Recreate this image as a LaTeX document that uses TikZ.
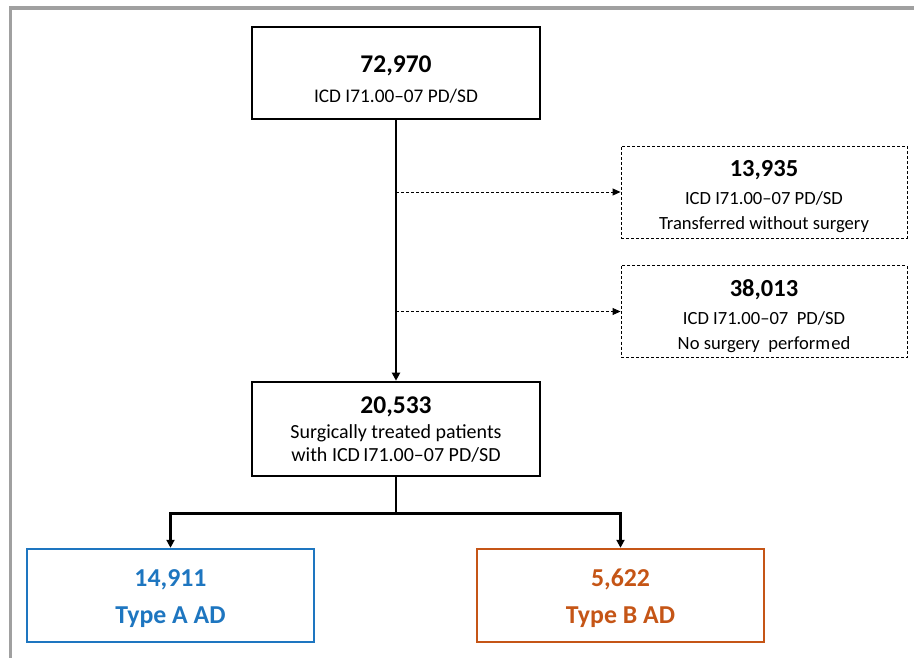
\documentclass[tikz,border=0pt]{standalone}
\usepackage{fontspec}
\setmainfont{Carlito}
\usetikzlibrary{arrows.meta,calc}
\definecolor{frameg}{RGB}{160,160,160}
\definecolor{typea}{RGB}{30,118,192}
\definecolor{typeb}{RGB}{197,85,22}
\tikzset{
  mainbox/.style={draw=black, line width=2.6pt, minimum width=288pt, minimum height=92pt, inner sep=0pt, align=center},
  sidebox/.style={draw=black, line width=0.9pt, dash pattern=on 3pt off 2pt, minimum width=286pt, minimum height=92pt, inner sep=0pt, align=center},
  resbox/.style={line width=2.4pt, minimum width=287pt, minimum height=93pt, inner sep=0pt, align=center},
  solidarrow/.style={draw=black, line width=2.4pt, -{Triangle[length=8pt,width=8pt]}},
  solidline/.style={draw=black, line width=2.4pt},
  dasharrow/.style={draw=black, line width=0.9pt, dash pattern=on 3pt off 2pt, -{Triangle[length=8pt,width=7pt]}},
}
\newcommand{\bignum}[2][25.5]{{\bfseries\fontsize{#1}{24}\selectfont #2}}
\newcommand{\lift}[1]{\rule{0pt}{#1pt}}
\begin{document}
\begin{tikzpicture}[x=1pt,y=-1pt]
\useasboundingbox (0,0) rectangle (914,658);
\draw[frameg, line width=3.5pt] (10.5,660) -- (10.5,8) -- (916,8);

\node[mainbox, font=\fontsize{19.3}{24}\selectfont] (top) at (396,73) {\lift{30}\bignum{72,970}\\[6pt]ICD I71.00–07 PD/SD};
\node[sidebox, font=\fontsize{18.6}{24}\selectfont] (side1) at (764,192) {\lift{26}\bignum[24.5]{13,935}\\[4pt]ICD I71.00–07 PD/SD\\[1pt]Transferred without surgery};
\node[sidebox, font=\fontsize{18.6}{24}\selectfont] (side2) at (764,311.5) {\lift{27}\bignum[24.5]{38,013}\\[4pt]ICD I71.00–07~ PD/SD\\[1pt]No surgery~ perform\kern1pt ed};
\node[mainbox, minimum height=94pt, font=\fontsize{20}{24}\selectfont] (mid) at (396,429) {\lift{18}\bignum{20,533}\\[1pt]Surgically treated patients\\[-1pt]with ICD\,I71.00–07 PD/SD};
\node[resbox, draw=typea, text=typea, font=\bfseries\fontsize{25.8}{24}\selectfont] (A) at (170.5,595.5) {\lift{22.5}14,911\\[13pt]Type A AD};
\node[resbox, draw=typeb, text=typeb, font=\bfseries\fontsize{25.8}{24}\selectfont] (B) at (620.5,595.5) {\lift{22.5}5,622\\[13pt]Type B AD};

\draw[solidarrow] (top.south) -- (mid.north);
\coordinate (d1) at (top.south |- side1.west);
\coordinate (d2) at (top.south |- side2.west);
\draw[dasharrow] (d1) -- (side1.west);
\draw[dasharrow] (d2) -- (side2.west);
\coordinate (br) at ($(mid.south)+(0,36)$);
\draw[solidline] (mid.south) -- (br);
\draw[solidarrow] (br) -| (A.north);
\draw[solidarrow] (br) -| (B.north);
\end{tikzpicture}
\end{document}
